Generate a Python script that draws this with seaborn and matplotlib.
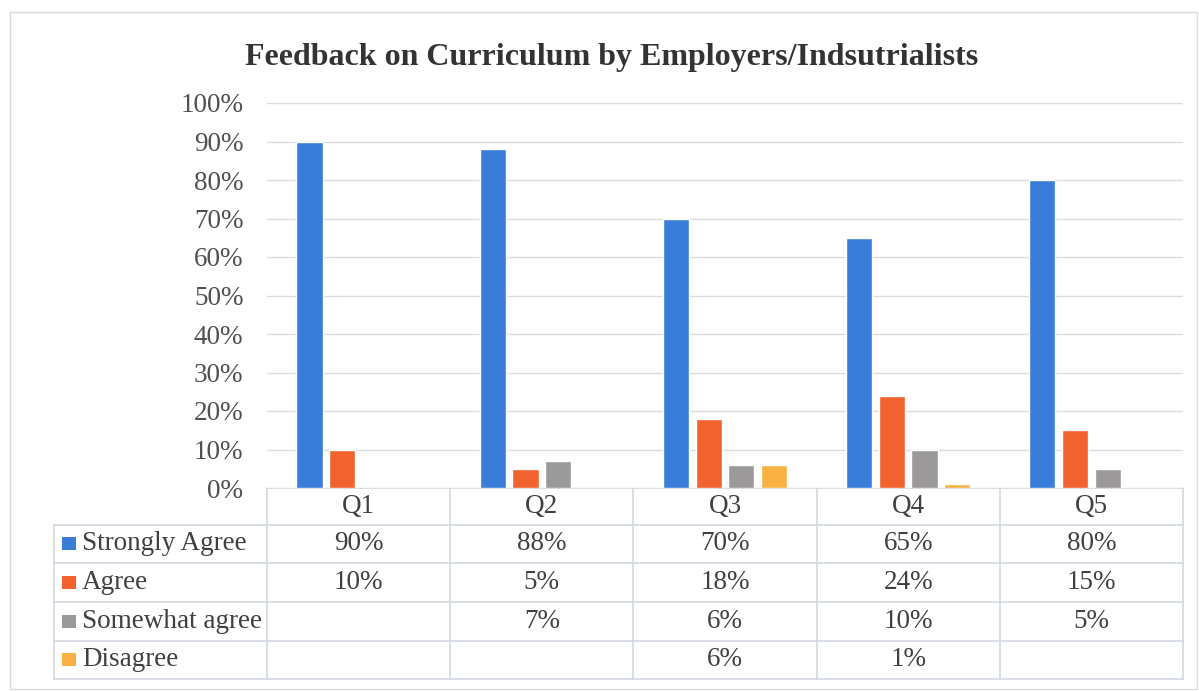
import pandas as pd
import matplotlib.pyplot as plt
import matplotlib.ticker as mtick
from matplotlib.patches import Rectangle
import seaborn as sns

# Data (None = blank cell in the data table)
questions = ["Q1", "Q2", "Q3", "Q4", "Q5"]
responses = ["Strongly Agree", "Agree", "Somewhat agree", "Disagree"]
strongly_agree = [0.90, 0.88, 0.70, 0.65, 0.80]
agree = [0.10, 0.05, 0.18, 0.24, 0.15]
somewhat_agree = [None, 0.07, 0.06, 0.10, 0.05]
disagree = [None, None, 0.06, 0.01, None]
y_ticks = [0.0, 0.1, 0.2, 0.3, 0.4, 0.5, 0.6, 0.7, 0.8, 0.9, 1.0]

colors = {
    "Strongly Agree": "#3A7DD8",
    "Agree": "#F2622E",
    "Somewhat agree": "#9C999A",
    "Disagree": "#F9B143",
}

series = [strongly_agree, agree, somewhat_agree, disagree]
rows = []
for resp, vals in zip(responses, series):
    for q, v in zip(questions, vals):
        rows.append({"question": q, "response": resp, "value": v})
df = pd.DataFrame(rows)
plot_df = df.dropna(subset=["value"])

sns.set_theme(style="white")
plt.rcParams["font.family"] = ["Liberation Serif", "DejaVu Serif"]

W, H = 1199, 691
fig = plt.figure(figsize=(W / 100, H / 100), dpi=100)
fig.patch.set_facecolor("white")

# pixel layout of the chart
plot_left, plot_right = 267, 1183
plot_top, plot_bottom = 103, 488
label_left = 54
row_edges = [488, 525, 563, 602, 641, 679]

ax = fig.add_axes([plot_left / W, 1 - plot_bottom / H,
                   (plot_right - plot_left) / W, (plot_bottom - plot_top) / H])
sns.barplot(data=plot_df, x="question", y="value", hue="response",
            order=questions, hue_order=responses, palette=colors,
            width=0.715, gap=0.2, saturation=1, legend=False, ax=ax)
ax.set_xlim(-0.5, len(questions) - 0.5)
ax.set_ylim(0, 1)
ax.set_yticks(y_ticks)
ax.yaxis.set_major_formatter(mtick.PercentFormatter(1.0, decimals=0))
ax.set_xticks([])
ax.set_xlabel("")
ax.set_ylabel("")
ax.tick_params(axis="y", length=0, pad=17, labelsize=19.5, labelcolor="#505050")
ax.yaxis.grid(True, color="#D9DCE3", linewidth=1)
ax.set_axisbelow(True)
for s in ax.spines.values():
    s.set_visible(False)

# data table underneath, drawn in pixel coordinates
tab = fig.add_axes([0, 0, 1, 1], zorder=-1)
tab.set_xlim(0, W)
tab.set_ylim(H, 0)
tab.axis("off")
line_kw = dict(color="#D3D8E0", linewidth=1.2)
colw = (plot_right - plot_left) / len(questions)

tab.plot([plot_left, plot_right], [row_edges[0]] * 2, **line_kw)
for y in row_edges[1:]:
    tab.plot([label_left, plot_right], [y, y], **line_kw)
tab.plot([label_left, label_left], [row_edges[1], row_edges[-1]], **line_kw)
for i in range(len(questions) + 1):
    x = plot_left + i * colw
    tab.plot([x, x], [row_edges[0], row_edges[-1]], **line_kw)

txt_kw = dict(fontsize=19.5, color="#404040", va="center", ha="center")
for i, q in enumerate(questions):
    cx = plot_left + (i + 0.5) * colw
    tab.text(cx, (row_edges[0] + row_edges[1]) / 2, q, **txt_kw)
    for r, vals in enumerate(series):
        v = vals[i]
        if v is not None:
            cy = (row_edges[r + 1] + row_edges[r + 2]) / 2
            tab.text(cx, cy, f"{round(v * 100)}%", **txt_kw)

for r, resp in enumerate(responses):
    cy = (row_edges[r + 1] + row_edges[r + 2]) / 2
    tab.add_patch(Rectangle((62, cy - 7), 14, 13, color=colors[resp], lw=0))
    tab.text(82, cy, resp, fontsize=19.5, color="#404040", va="center", ha="left")

# outer chart border
tab.add_patch(Rectangle((10, 12), W - 12, H - 14, fill=False,
                        edgecolor="#DADADA", linewidth=1))

fig.text(612 / W, 1 - 57 / H, "Feedback on Curriculum by Employers/Indsutrialists",
         fontsize=23, fontweight="bold", color="#333333", ha="center", va="center")

fig.savefig("out.png", dpi=100)
